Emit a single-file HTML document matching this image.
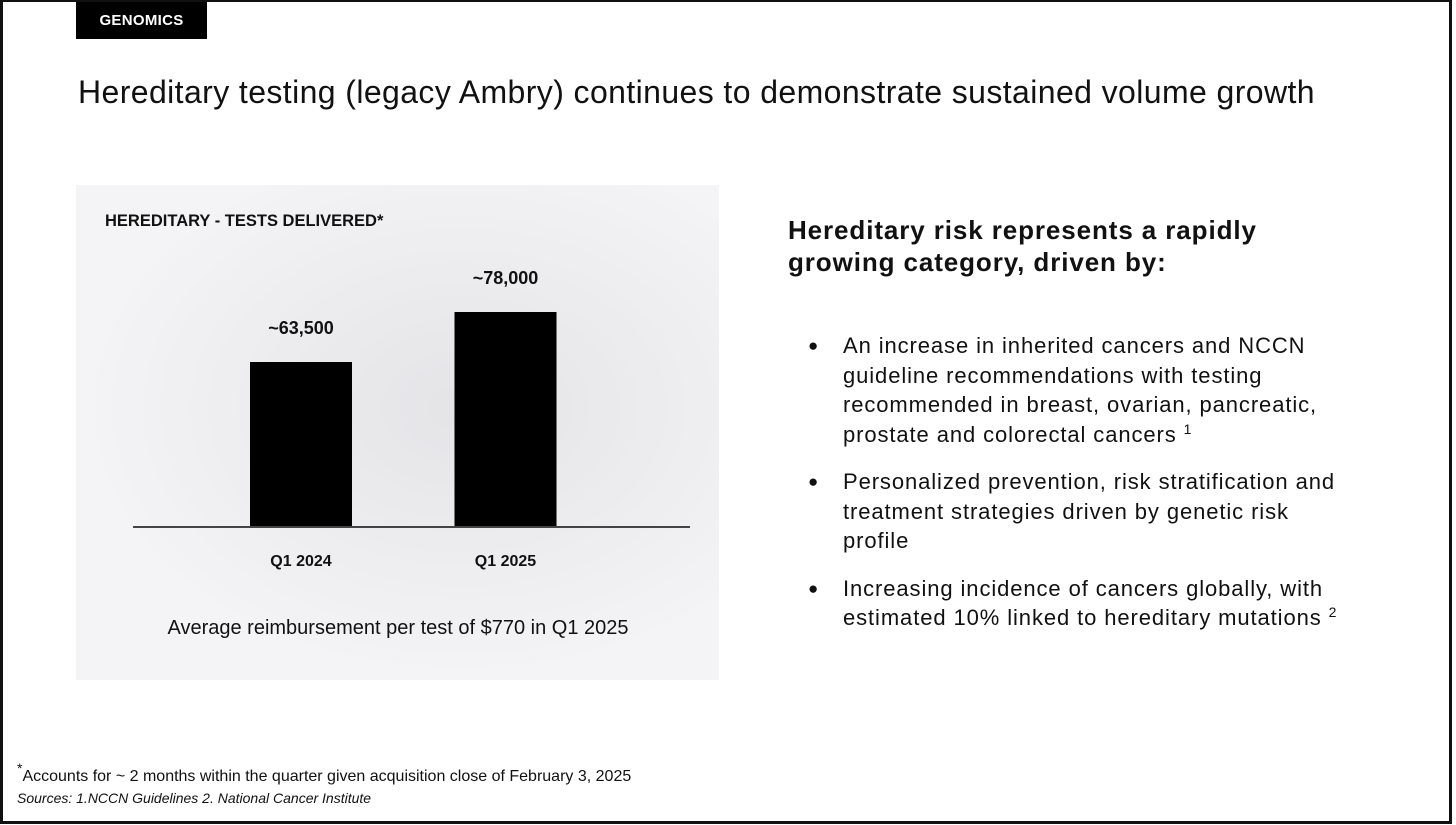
<!DOCTYPE html>
<html><head><meta charset="utf-8"><style>
body{margin:0;width:1456px;height:825px;background:#fff;font-family:"Liberation Sans",sans-serif;position:relative;overflow:hidden}
.frame{position:absolute;left:0;top:0;width:1446px;height:819px;border:3px solid #111;border-top-width:2px}
.tag{position:absolute;left:76px;top:2px;width:131px;height:37px;background:#000;color:#fff;font-weight:bold;font-size:15px;line-height:37px;text-align:center;letter-spacing:.3px}
h1{position:absolute;left:78px;top:74px;margin:0;font-weight:normal;font-size:32px;color:#111;letter-spacing:.4px}
.panel{position:absolute;left:76px;top:185px;width:643px;height:495px;background:radial-gradient(ellipse at 60% 45%,#e4e4e7,#f4f4f6 70%)}
.right{position:absolute;left:788px;top:214px;font-weight:bold;font-size:26px;line-height:32px;color:#111;letter-spacing:.9px}
ul{position:absolute;left:808px;top:331px;margin:0;padding:0;list-style:none;font-size:22px;line-height:29.5px;color:#111;letter-spacing:.9px}
li{position:relative;padding-left:35px;margin-bottom:18px;width:510px}
li:before{content:"●";position:absolute;left:0;top:0;font-size:17px}
sup{font-size:14px;line-height:0;vertical-align:8px}
.foot1{position:absolute;left:17px;top:768px;font-size:16px;color:#111}
.foot2{position:absolute;left:17px;top:790px;font-size:14px;font-style:italic;color:#111}
</style></head><body>
<div class="frame"></div>
<div class="tag">GENOMICS</div>
<h1>Hereditary testing (legacy Ambry) continues to demonstrate sustained volume growth</h1>
<div class="panel"></div>
<svg id="chart" width="1456" height="825" style="position:absolute;left:0;top:0">
<text x="105" y="226" font-size="16.5" font-weight="bold" fill="#111" font-family="Liberation Sans">HEREDITARY - TESTS DELIVERED*</text>
<text x="398" y="634" font-size="20" fill="#111" text-anchor="middle" font-family="Liberation Sans">Average reimbursement per test of $770 in Q1 2025</text>
</svg>
<div class="right">Hereditary risk represents a rapidly<br>growing category, driven by:</div>
<ul>
<li>An increase in inherited cancers and NCCN guideline recommendations with testing recommended in breast, ovarian, pancreatic, prostate and colorectal cancers <sup>1</sup></li>
<li>Personalized prevention, risk stratification and treatment strategies driven by genetic risk profile</li>
<li>Increasing incidence of cancers globally, with estimated 10% linked to hereditary mutations <sup>2</sup></li>
</ul>
<div class="foot1"><sup>*</sup>Accounts for ~ 2 months within the quarter given acquisition close of February 3, 2025</div>
<div class="foot2">Sources: 1.NCCN Guidelines 2. National Cancer Institute</div>
<script>
const categories=["Q1 2024","Q1 2025"];
const values=[63500,78000];
const valueLabels=["~63,500","~78,000"];
const svg=document.getElementById('chart');
const NS='http://www.w3.org/2000/svg';
const baseY=527, yMin=15650, k=215/(78000-15650);
const y=v=>baseY-(v-yMin)*k;
const xCenter=i=>301+i*204.5;
const bw=102;
function mk(t,a){const e=document.createElementNS(NS,t);for(const n in a)e.setAttribute(n,a[n]);svg.appendChild(e);return e;}
categories.forEach((c,i)=>{
  const r=mk('rect',{x:xCenter(i)-bw/2,y:y(values[i]),width:bw,height:baseY-y(values[i]),fill:'#000'});
  
  
  const t=mk('text',{x:xCenter(i),y:y(values[i])-28,'text-anchor':'middle','font-size':18,'font-weight':'bold',fill:'#111','font-family':'Liberation Sans'});
  t.textContent=valueLabels[i];
  
  
  const l=mk('text',{x:xCenter(i),y:566,'text-anchor':'middle','font-size':16,'font-weight':'bold',fill:'#111','font-family':'Liberation Sans'});
  l.textContent=c;
  
  
});
const ax=mk('line',{x1:133,x2:690,y1:baseY,y2:baseY,stroke:'#444','stroke-width':2});


</script>
</body></html>
